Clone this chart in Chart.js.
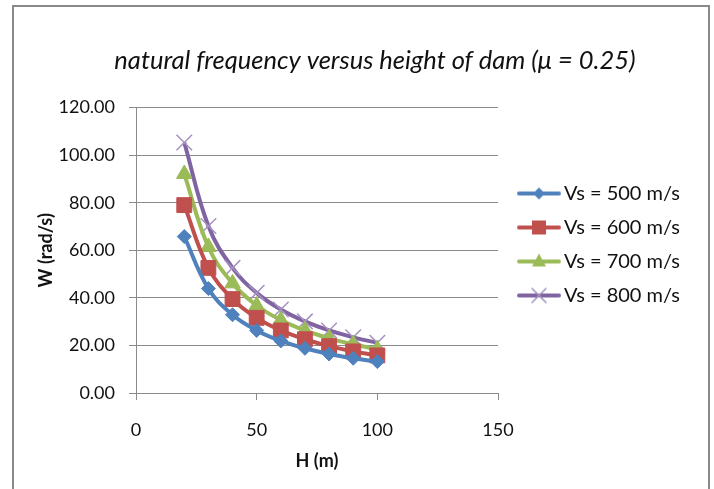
<!DOCTYPE html>
<html>
<head>
<meta charset="utf-8">
<script src="https://cdn.jsdelivr.net/npm/chart.js@4/dist/chart.umd.min.js"></script>
<style>
  body { margin: 0; background: #fff; }
  #wrap { position: relative; width: 714px; height: 489px; overflow: hidden; }
  #frame { position: absolute; left: 12px; top: 5px; width: 694px; height: 520px; border: 2px solid #898989; }
  #c { position: absolute; left: 0; top: 0; }
</style>
</head>
<body>
<div id="wrap">
  <div id="frame"></div>
  <canvas id="c" width="714" height="489"></canvas>
</div>
<script>
// heights (m) and natural frequency W (rad/s)
const heights = [20, 30, 40, 50, 60, 70, 80, 90, 100]
const vs500 = [65.8, 43.9, 32.9, 26.3, 21.9, 18.8, 16.4, 14.6, 13.2]
const vs600 = [79.0, 52.6, 39.5, 31.6, 26.3, 22.6, 19.7, 17.5, 15.8]
const vs700 = [92.1, 61.4, 46.1, 36.8, 30.7, 26.3, 23.0, 20.5, 18.4]
const vs800 = [105.3, 70.2, 52.6, 42.1, 35.1, 30.1, 26.3, 23.4, 21.1]
const seriesNames = ['Vs = 500 m/s', 'Vs = 600 m/s', 'Vs = 700 m/s', 'Vs = 800 m/s']
const yTicks = [0, 20, 40, 60, 80, 100, 120]
const xTicks = [0, 50, 100, 150]

const colors = ['#4F81BD', '#C0504D', '#9BBB59', '#8064A2']
const shapes = ['rectRot', 'rect', 'triangle', 'crossRot']
const radii = [7, 10.5, 9, 11]

function pts(vals){
    return heights.map((h, i) => ({x: h, y: vals[i]}))
}

// little line+marker pictures for the legend, like excel does
// (left part of the picture is blank, it just pushes the line to the right)
function legendIcon(i){
    const cv = document.createElement('canvas')
    cv.width = 56; cv.height = 18
    const g = cv.getContext('2d')
    g.strokeStyle = colors[i]; g.lineWidth = 4; g.lineCap = 'round'
    g.beginPath(); g.moveTo(14, 9); g.lineTo(54, 9); g.stroke()
    g.fillStyle = colors[i]
    const cx = 34, cy = 9
    g.beginPath()
    if(i == 0){
        g.moveTo(cx - 6, cy); g.lineTo(cx, cy - 6); g.lineTo(cx + 6, cy); g.lineTo(cx, cy + 6); g.closePath(); g.fill()
    }else if(i == 1){
        g.rect(cx - 7, cy - 7, 14, 14); g.fill()
    }else if(i == 2){
        g.moveTo(cx, cy - 8); g.lineTo(cx + 7, cy + 5); g.lineTo(cx - 7, cy + 5); g.closePath(); g.fill()
    }else{
        g.strokeStyle = '#a592c0'; g.lineWidth = 1.5
        g.moveTo(cx - 7, cy - 7); g.lineTo(cx + 7, cy + 7); g.moveTo(cx + 7, cy - 7); g.lineTo(cx - 7, cy + 7); g.stroke()
    }
    return cv
}
const icons = [0, 1, 2, 3].map(legendIcon)

const allSeries = [vs500, vs600, vs700, vs800]
const datasets = allSeries.map((vals, i) => ({
    label: seriesNames[i],
    data: pts(vals),
    borderColor: colors[i],
    backgroundColor: colors[i],
    borderWidth: 4,
    tension: 0.4,
    pointStyle: shapes[i],
    pointRadius: radii[i],
    pointBorderWidth: i == 3 ? 1.5 : 1,
    pointBorderColor: i == 3 ? '#a592c0' : colors[i],
    pointBackgroundColor: colors[i]
}))

// the right legend is capped to a quarter of the width by the layout, so widen it
const legendWidth = {
    id: 'legendWidth',
    beforeLayout(chart){
        const lg = chart.legend
        if(lg && !lg._wide){
            const fit = lg.fit.bind(lg)
            lg.fit = function(){ fit(); this.width = 200 }
            lg._wide = true
        }
    }
}

const gridColor = '#8a8a8a'
const tickFont = {family: 'Lato', size: 18}

new Chart(document.getElementById('c'), {
    type: 'line',
    data: {datasets: datasets},
    plugins: [legendWidth],
    options: {
        responsive: false,
        animation: false,
        layout: {padding: {left: 52, right: 16, top: 0, bottom: 0}},
        plugins: {
            title: {
                display: true,
                text: 'natural frequency versus height of dam (\u03BC = 0.25)',
                color: '#111',
                font: {family: 'Lato', size: 25.5, style: 'italic', weight: 'normal'},
                padding: {top: 45, bottom: 32}
            },
            legend: {
                position: 'right',
                labels: {
                    color: '#111',
                    font: {family: 'Lato', size: 20},
                    usePointStyle: true,
                    pointStyleWidth: 42,
                    padding: 14,
                    generateLabels: function(chart){
                        const items = Chart.defaults.plugins.legend.labels.generateLabels(chart)
                        items.forEach((it, i) => { it.pointStyle = icons[i] })
                        return items
                    }
                }
            },
            tooltip: {enabled: false}
        },
        scales: {
            x: {
                type: 'linear',
                min: 0, max: 150,
                afterBuildTicks: s => { s.ticks = xTicks.map(v => ({value: v})) },
                afterFit: s => { s.height = 96 },
                ticks: {color: '#111', font: tickFont, padding: 19, maxRotation: 0},
                grid: {drawOnChartArea: false, drawTicks: true, tickLength: 7, color: gridColor},
                border: {color: gridColor, width: 1},
                title: {display: true, text: 'H (m)', color: '#111', font: {family: 'Lato', size: 18, weight: 'bold'}, padding: {top: 0, bottom: 17}}
            },
            y: {
                min: 0, max: 120,
                afterBuildTicks: s => { s.ticks = yTicks.map(v => ({value: v})) },
                afterFit: s => { s.width = 84 },
                ticks: {color: '#111', font: tickFont, padding: 14, callback: v => v.toFixed(2)},
                grid: {color: gridColor, tickLength: 7, lineWidth: 1},
                border: {color: gridColor, width: 1},
                title: {display: true, text: 'W (rad/s)', color: '#111', font: {family: 'Lato', size: 18, weight: 'bold'}, padding: {top: -17, bottom: 0}}
            }
        }
    }
})
</script>
</body>
</html>
